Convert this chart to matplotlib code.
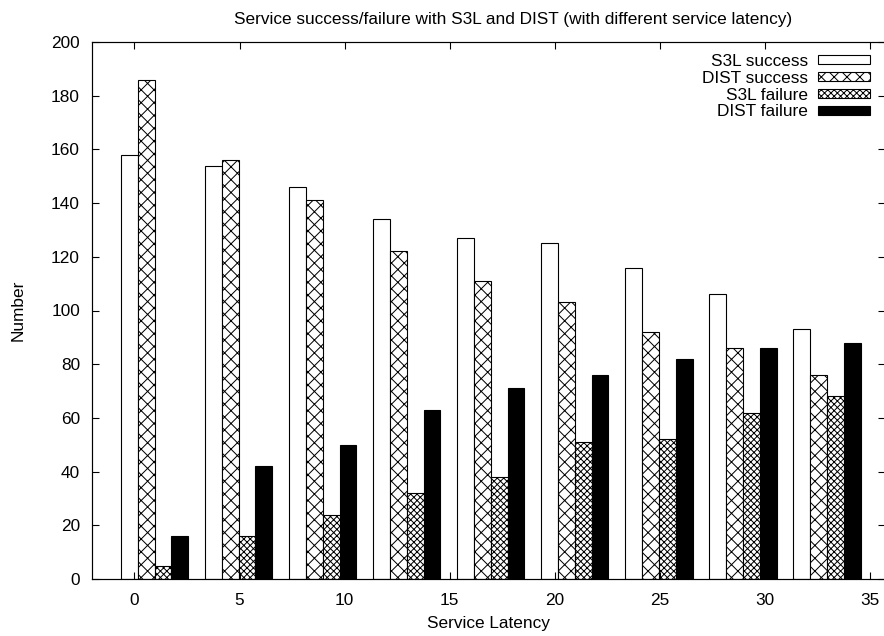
import matplotlib
matplotlib.use("Agg")
import matplotlib.pyplot as plt
import numpy as np

plt.rcParams['font.family'] = ['Liberation Sans', 'DejaVu Sans']

DPI = 77
def pt(px):
    return px * 72.0 / DPI

plt.rcParams['hatch.linewidth'] = pt(1.0)

series_names = ["S3L success", "DIST success", "S3L failure", "DIST failure"]
s3l_success = [158, 154, 146, 134, 127, 125, 116, 106, 93]
dist_success = [186, 156, 141, 122, 111, 103, 92, 86, 76]
s3l_failure = [5, 16, 24, 32, 38, 51, 52, 62, 68]
dist_failure = [16, 42, 50, 63, 71, 76, 82, 86, 88]
xtick_labels = [0, 5, 10, 15, 20, 25, 30, 35]
yticks = [0, 20, 40, 60, 80, 100, 120, 140, 160, 180, 200]

W, H = 884, 636
fig = plt.figure(figsize=(W / DPI, H / DPI), dpi=DPI)
L, R, T, B = 92, 885, 42, 579
ax = fig.add_axes([L / W, (H - B) / H, (R - L) / W, (B - T) / H])

group_step = 4.0
group_start = -0.64
bw = 0.8
gidx = np.arange(len(s3l_success))
styles = [
    dict(facecolor='white', hatch=None),
    dict(facecolor='white', hatch='xx'),
    dict(facecolor='white', hatch='xxxx'),
    dict(facecolor='black', hatch=None),
]
data = [s3l_success, dist_success, s3l_failure, dist_failure]
for k, (vals, st, name) in enumerate(zip(data, styles, series_names)):
    x = group_start + gidx * group_step + bw * (k + 0.5)
    ax.bar(x, vals, width=bw, facecolor=st['facecolor'], edgecolor='black',
           hatch=st['hatch'], linewidth=pt(1.1), label=name)

ax.set_xlim(-2.02, 35.72)
ax.set_ylim(0, 200)
ax.set_xticks(xtick_labels)
ax.set_yticks(yticks)
FS = pt(17.3)
ax.tick_params(direction='in', length=pt(7), width=pt(1.1), top=True, right=True,
               labelsize=FS)
ax.tick_params(axis='y', pad=pt(12))
ax.tick_params(axis='x', pad=pt(14))
for sp in ax.spines.values():
    sp.set_linewidth(pt(1.2))

ax.set_title("Service success/failure with S3L and DIST (with different service latency)",
             fontsize=FS, pad=pt(18), x=(513 - L) / (R - L))
ax.set_xlabel("Service Latency", fontsize=FS, labelpad=pt(8))
ax.set_ylabel("Number", fontsize=FS, labelpad=pt(26))

fs_px = 17.3
ax_x = (876.7 - L) / (R - L)
ax_y = (B - 46.8) / (B - T)
leg = ax.legend(loc='upper right', frameon=False, markerfirst=False,
                fontsize=FS, handlelength=52 / fs_px, handleheight=8 / fs_px,
                labelspacing=0.11, borderaxespad=0, borderpad=0.4,
                handletextpad=10 / fs_px, alignment='right',
                bbox_to_anchor=(ax_x, ax_y))

fig.savefig("out.png", dpi=DPI)
